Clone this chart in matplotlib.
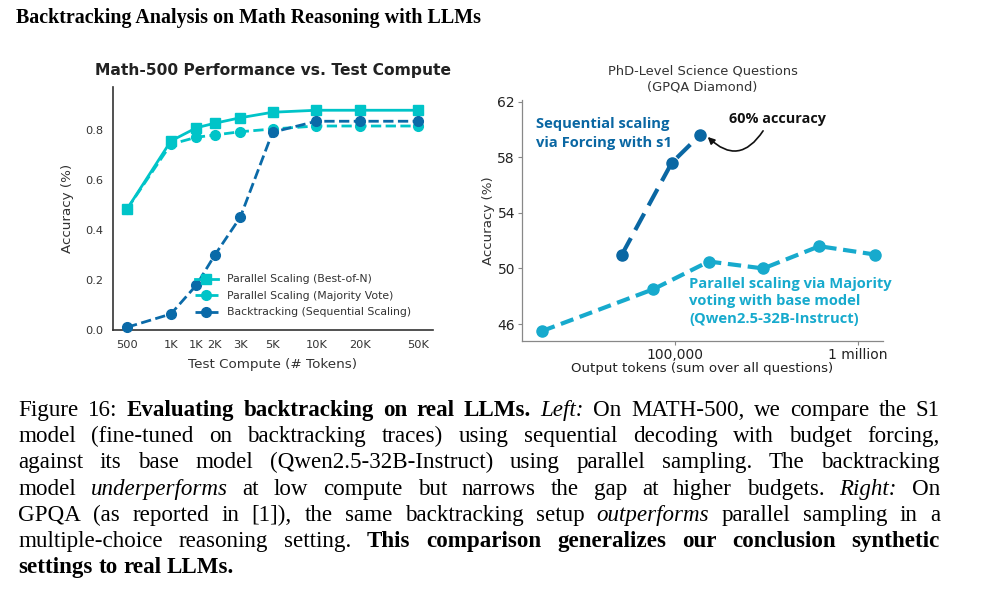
import numpy as np
import matplotlib
matplotlib.use("Agg")
import matplotlib.pyplot as plt
from matplotlib.ticker import FixedLocator, FixedFormatter, NullLocator

# ---- left panel data (Math-500) ----
tokens = [500, 1000, 1500, 2000, 3000, 5000, 10000, 20000, 50000]
tick_labels = ["500", "1K", "1K", "2K", "3K", "5K", "10K", "20K", "50K"]
best_of_n = [0.484, 0.756, 0.809, 0.827, 0.849, 0.871, 0.879, 0.879, 0.879]
majority_vote = [0.484, 0.743, 0.771, 0.780, 0.793, 0.804, 0.816, 0.816, 0.816]
backtracking = [0.011, 0.064, 0.180, 0.299, 0.451, 0.791, 0.835, 0.835, 0.835]

# ---- right panel data (GPQA Diamond) ----
seq_tokens = [51300, 96000, 137000]
seq_acc = [51.0, 57.6, 59.6]
par_tokens = [18800, 76000, 153000, 304000, 615000, 1240000]
par_acc = [45.5, 48.5, 50.5, 50.0, 51.6, 51.0]

cyan = "#00c4c8"
dark_blue = "#0a6aa8"
right_blue = "#0a67a3"
right_teal = "#17aacd"

fig = plt.figure(figsize=(9.88, 5.92), dpi=100)
W, H = 988, 592

def fy(py):
    return 1 - py / H

# main title
fig.text(16 / W, fy(18), "Backtracking Analysis on Math Reasoning with LLMs",
         family="Liberation Serif", weight="bold", fontsize=14.4, va="center", ha="left")

# ---------------- left chart ----------------
ax1 = fig.add_axes([113 / W, fy(330), 320 / W, 243 / H])
ax1.plot(tokens, best_of_n, "-s", color=cyan, lw=2, ms=7, clip_on=False,
         label="Parallel Scaling (Best-of-N)", zorder=3)
ax1.plot(tokens, majority_vote, "--o", color=cyan, lw=2, ms=7, clip_on=False,
         label="Parallel Scaling (Majority Vote)", zorder=3)
ax1.plot(tokens, backtracking, "--o", color=dark_blue, lw=2, ms=7, clip_on=False,
         label="Backtracking (Sequential Scaling)", zorder=4)
ax1.set_xscale("log")
ax1.set_xlim(400, 63400)
ax1.set_ylim(0, 0.972)
ax1.xaxis.set_major_locator(FixedLocator(tokens))
ax1.xaxis.set_major_formatter(FixedFormatter(tick_labels))
ax1.xaxis.set_minor_locator(NullLocator())
ax1.set_yticks([0.0, 0.2, 0.4, 0.6, 0.8])
ax1.set_yticklabels(["0.0", "0.2", "0.4", "0.6", "0.8"])
ax1.tick_params(length=0, labelsize=8.2, labelcolor="#333333", pad=7)
for s in ["top", "right"]:
    ax1.spines[s].set_visible(False)
for s in ["left", "bottom"]:
    ax1.spines[s].set_color("#333333")
    ax1.spines[s].set_linewidth(1.2)
ax1.set_title("Math-500 Performance vs. Test Compute", fontsize=11.2,
              weight="bold", color="#222222", pad=9)
ax1.set_ylabel("Accuracy (%)", fontsize=9.7, color="#333333", labelpad=8)
ax1.set_xlabel("Test Compute (# Tokens)", fontsize=9.7, color="#333333", labelpad=6)
ax1.legend(loc="center left", bbox_to_anchor=(0.256, 0.14), frameon=False,
           fontsize=7.8, borderpad=0, borderaxespad=0, handlelength=2.1,
           handletextpad=0.85, labelspacing=0.6, labelcolor="#333333")

# ---------------- right chart ----------------
ax2 = fig.add_axes([522 / W, fy(341), 361 / W, 241 / H])
ax2.plot(seq_tokens, seq_acc, color=right_blue, lw=3, ls=(0, (4.5, 2.2)),
         marker="o", ms=8, zorder=3)
ax2.plot(par_tokens, par_acc, color=right_teal, lw=3, ls=(0, (3.2, 1.6)),
         marker="o", ms=8, zorder=3)
ax2.set_xscale("log")
ax2.set_xlim(14590, 1370000)
ax2.set_ylim(44.78, 62.12)
ax2.xaxis.set_major_locator(FixedLocator([1e5, 1e6]))
ax2.xaxis.set_major_formatter(FixedFormatter(["100,000", "1 million"]))
ax2.xaxis.set_minor_locator(NullLocator())
ax2.set_yticks([46, 50, 54, 58, 62])
ax2.tick_params(length=3, width=0.8, color="#888888", labelsize=10,
                labelcolor="#222222", pad=2)
for s in ["top", "right"]:
    ax2.spines[s].set_visible(False)
for s in ["left", "bottom"]:
    ax2.spines[s].set_color("#888888")
    ax2.spines[s].set_linewidth(0.9)
ax2.set_title("PhD-Level Science Questions\n(GPQA Diamond)", fontsize=9.4,
              color="#333333", pad=7, linespacing=1.3)
ax2.set_ylabel("Accuracy (%)", fontsize=9.6, color="#333333", labelpad=2)
ax2.set_xlabel("Output tokens (sum over all questions)", fontsize=9.6,
               color="#222222", labelpad=0)

ax2.text(0.039, 0.861, "Sequential scaling\nvia Forcing with s1", transform=ax2.transAxes,
         family="Open Sans", weight="bold", fontsize=10.6, color=right_blue,
         ha="left", va="center", linespacing=1.45)
ax2.text(0.708, 0.921, "60% accuracy", transform=ax2.transAxes,
         family="Open Sans", weight="bold", fontsize=10.4, color="#111111",
         ha="center", va="center")
ax2.annotate("", xy=(151000, 59.46), xytext=(303000, 59.9),
             arrowprops=dict(arrowstyle="-|>", color="#111111", lw=1.2,
                             connectionstyle="arc3,rad=-0.6", shrinkA=0, shrinkB=0))
ax2.text(0.4626, 0.164, "Parallel scaling via Majority\nvoting with base model\n(Qwen2.5-32B-Instruct)",
         transform=ax2.transAxes, family="Open Sans", weight="bold", fontsize=10.6,
         color=right_teal, ha="left", va="center", linespacing=1.3)

# ---------------- caption (justified lines) ----------------
caption = [
    [("Figure 16:", "n"), ("Evaluating backtracking on real LLMs.", "b"), ("Left:", "i"),
     ("On MATH-500, we compare the S1", "n")],
    [("model (fine-tuned on backtracking traces) using sequential decoding with budget forcing,", "n")],
    [("against its base model (Qwen2.5-32B-Instruct) using parallel sampling. The backtracking", "n")],
    [("model", "n"), ("underperforms", "i"), ("at low compute but narrows the gap at higher budgets.", "n"),
     ("Right:", "i"), ("On", "n")],
    [("GPQA (as reported in [1]), the same backtracking setup", "n"), ("outperforms", "i"),
     ("parallel sampling in a", "n")],
    [("multiple-choice reasoning setting.", "n"),
     ("This comparison generalizes our conclusion synthetic", "b")],
    [("settings to real LLMs.", "b")],
]
baselines = [416, 442, 468, 495, 521, 547, 573]
x0, x1 = 18, 940
renderer = fig.canvas.get_renderer()
styles = {"n": dict(), "b": dict(weight="bold"), "i": dict(style="italic")}
for li, (line, base) in enumerate(zip(caption, baselines)):
    words = []
    for seg, st in line:
        for w in seg.split(" "):
            t = fig.text(0, fy(base), w, family="Liberation Serif", fontsize=16.6,
                         va="baseline", ha="left", **styles[st])
            words.append(t)
    widths = [t.get_window_extent(renderer).width for t in words]
    space = words[0].get_fontsize() * 0.25 * 100 / 72
    if li < len(caption) - 1 and len(words) > 1:
        gap = (x1 - x0 - sum(widths)) / (len(words) - 1)
    else:
        gap = space
    x = x0
    for t, w in zip(words, widths):
        t.set_x(x / W)
        x += w + gap

fig.savefig("out.png", dpi=100)
